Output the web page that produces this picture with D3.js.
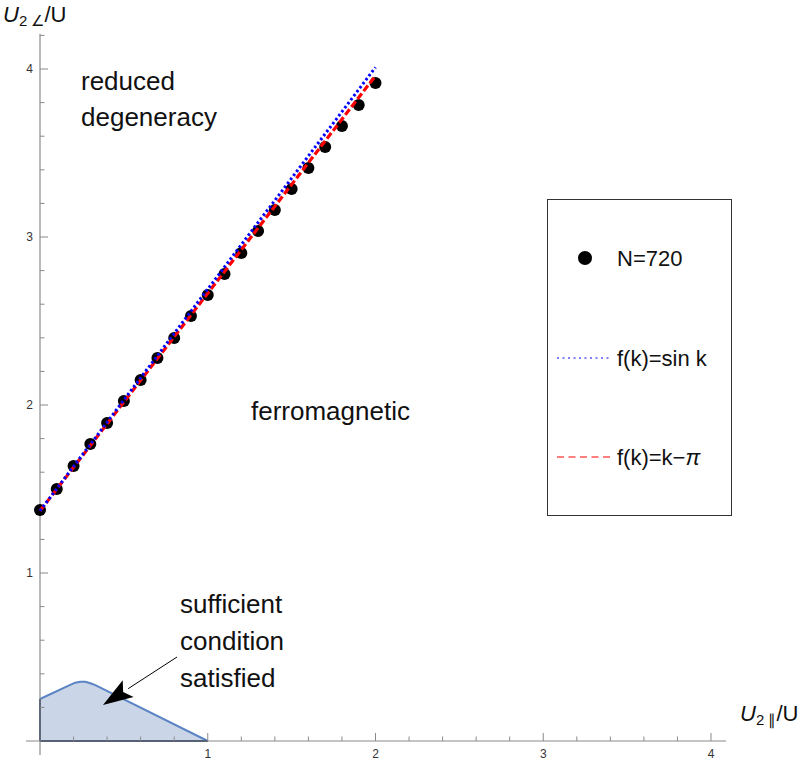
<!DOCTYPE html>
<html><head><meta charset="utf-8">
<script src="https://cdn.jsdelivr.net/npm/d3@7"></script>
<style>body{margin:0;background:#fff}svg{display:block;font-family:"Liberation Sans",Arial,sans-serif}</style>
</head><body><svg id="c" width="798" height="763"></svg>
<script>
// data
const pointsX = [0,0.1,0.2,0.3,0.4,0.5,0.6,0.7,0.8,0.9,1.0,1.1,1.2,1.3,1.4,1.5,1.6,1.7,1.8,1.9,2.0];
const pointsY = [1.375,1.50,1.637,1.768,1.893,2.024,2.149,2.280,2.399,2.530,2.655,2.780,2.905,3.036,3.161,3.286,3.411,3.536,3.661,3.786,3.917];
const sinLineX = [0, 2];
const sinLineY = [1.37, 4.01];
const kpiLineX = [0, 2];
const kpiLineY = [1.37, 3.96];
const regionX = [0, 0.18, 0.21, 0.24, 0.27, 0.30, 0.33, 1.0];
const regionY = [0.25, 0.334, 0.347, 0.353, 0.352, 0.344, 0.333, 0];
const majorTicks = [1, 2, 3, 4];
const tickLabels = ["1", "2", "3", "4"];
const legendLabels = ["N=720", "f(k)=sin k", "f(k)=k\u2212"];
const regionLabels = ["reduced", "degeneracy"];
const conditionLabels = ["sufficient", "condition", "satisfied"];

const svg = d3.select("#c");
const x = d3.scaleLinear().domain([0, 4]).range([40, 711]);
const y = d3.scaleLinear().domain([0, 4]).range([741, 69]);
const axisColor = "#8a8a8a";

// shaded region
const poly = regionX.map((v, i) => [v, regionY[i]]);
const area = d3.area().x(d => x(d[0])).y0(y(0)).y1(d => y(d[1]));
svg.append("path").datum(poly).attr("d", area).attr("fill", "#cbd5e8");
svg.append("path").datum(poly).attr("d", d3.line().x(d => x(d[0])).y(d => y(d[1])))
  .attr("fill", "none").attr("stroke", "#5b84c4").attr("stroke-width", 2);
svg.append("line").attr("x1", x(0)).attr("x2", x(1)).attr("y1", y(0)).attr("y2", y(0))
  .attr("stroke", "#243a63").attr("stroke-width", 2);
svg.append("line").attr("x1", x(0)).attr("x2", x(0)).attr("y1", y(0)).attr("y2", y(regionY[0]))
  .attr("stroke", "#243a63").attr("stroke-width", 2);

// axes
const minor = d3.range(0.2, 4.21, 0.2).filter(v => Math.abs(v - Math.round(v)) > 1e-6);
const gx = svg.append("g");
gx.append("line").attr("x1", 26).attr("x2", x(4.09)).attr("y1", y(0)).attr("y2", y(0)).attr("stroke", axisColor).attr("stroke-width", 1.2);
const gy = svg.append("g");
gy.append("line").attr("x1", x(0)).attr("x2", x(0)).attr("y1", 755).attr("y2", y(4.21)).attr("stroke", axisColor).attr("stroke-width", 1.2);
minor.filter(v => v < 4.05).forEach(v => {
  gx.append("line").attr("x1", x(v)).attr("x2", x(v)).attr("y1", y(0)).attr("y2", y(0) - 4.5).attr("stroke", axisColor);
});
minor.forEach(v => {
  gy.append("line").attr("y1", y(v)).attr("y2", y(v)).attr("x1", x(0)).attr("x2", x(0) + 4.5).attr("stroke", axisColor);
});
majorTicks.forEach((v, i) => {
  gx.append("line").attr("x1", x(v)).attr("x2", x(v)).attr("y1", y(0)).attr("y2", y(0) - 8).attr("stroke", axisColor);
  gx.append("text").attr("x", x(v)).attr("y", y(0) + 17).attr("text-anchor", "middle").attr("font-size", 12).attr("fill", "#333").text(tickLabels[i]);
  gy.append("line").attr("y1", y(v)).attr("y2", y(v)).attr("x1", x(0)).attr("x2", x(0) + 8).attr("stroke", axisColor);
  gy.append("text").attr("x", x(0) - 7).attr("y", y(v) + 4).attr("text-anchor", "end").attr("font-size", 12).attr("fill", "#333").text(tickLabels[i]);
});

// axis labels
const yl = svg.append("text").attr("x", 3).attr("y", 22).attr("font-size", 22).attr("fill", "#111");
yl.append("tspan").attr("font-style", "italic").text("U");
yl.append("tspan").attr("font-size", 15).attr("dy", 4).text("2 \u2220");
yl.append("tspan").attr("dy", -4).text("/U");
const xl = svg.append("text").attr("x", 740).attr("y", 721).attr("font-size", 22).attr("fill", "#111");
xl.append("tspan").attr("font-style", "italic").text("U");
xl.append("tspan").attr("font-size", 15).attr("dy", 4).text("2 \u2225");
xl.append("tspan").attr("dy", -4).text("/U");

// data points
svg.append("g").selectAll("circle").data(pointsX).join("circle")
  .attr("cx", d => x(d)).attr("cy", (d, i) => y(pointsY[i])).attr("r", 6).attr("fill", "#000");

// lines
const ln = d3.line().x(d => x(d[0])).y(d => y(d[1]));
svg.append("path").datum(kpiLineX.map((v, i) => [v, kpiLineY[i]])).attr("d", ln)
  .attr("fill", "none").attr("stroke", "#ff0000").attr("stroke-width", 3.2).attr("stroke-dasharray", "7,3");
svg.append("path").datum(sinLineX.map((v, i) => [v, sinLineY[i]])).attr("d", ln)
  .attr("fill", "none").attr("stroke", "#0000ff").attr("stroke-width", 3).attr("stroke-dasharray", "2.5,2.5");

// text labels
const fs = 22, fl = 26;
regionLabels.forEach((t, i) => svg.append("text").attr("x", 81).attr("y", 90 + i * 36).attr("font-size", fl).attr("fill", "#111").text(t));
svg.append("text").attr("x", 251).attr("y", 420).attr("font-size", fl).attr("fill", "#111").text("ferromagnetic");
conditionLabels.forEach((t, i) => svg.append("text").attr("x", 180).attr("y", 613 + i * 37).attr("font-size", fl).attr("fill", "#111").text(t));

// arrow
const tip = [103, 705], tail = [177, 657];
const ang = Math.atan2(tip[1] - tail[1], tip[0] - tail[0]);
const L = 30, W = 10;
const bx = tip[0] - L * Math.cos(ang), by = tip[1] - L * Math.sin(ang);
svg.append("line").attr("x1", tail[0]).attr("y1", tail[1]).attr("x2", bx).attr("y2", by).attr("stroke", "#000").attr("stroke-width", 1);
svg.append("path").attr("d", `M${tip[0]},${tip[1]} L${bx + W * Math.sin(ang)},${by - W * Math.cos(ang)} L${bx + 6*Math.cos(ang)},${by + 6*Math.sin(ang)} L${bx - W * Math.sin(ang)},${by + W * Math.cos(ang)} Z`).attr("fill", "#000");

// legend
const lg = svg.append("g");
lg.append("rect").attr("x", 547.5).attr("y", 199.5).attr("width", 184).attr("height", 316).attr("fill", "#fff").attr("stroke", "#333").attr("stroke-width", 1);
lg.append("circle").attr("cx", 585).attr("cy", 258).attr("r", 7).attr("fill", "#000");
lg.append("text").attr("x", 617).attr("y", 266).attr("font-size", fs).attr("fill", "#111").text(legendLabels[0]);
lg.append("line").attr("x1", 557).attr("x2", 611).attr("y1", 358).attr("y2", 358).attr("stroke", "#0000ff").attr("stroke-width", 1.2).attr("stroke-dasharray", "2,3.5");
lg.append("text").attr("x", 617).attr("y", 366).attr("font-size", fs).attr("fill", "#111").text(legendLabels[1]);
lg.append("line").attr("x1", 557).attr("x2", 611).attr("y1", 457).attr("y2", 457).attr("stroke", "#ff0000").attr("stroke-width", 1.2).attr("stroke-dasharray", "7,4.5");
const t3 = lg.append("text").attr("x", 617).attr("y", 465).attr("font-size", fs).attr("fill", "#111").text(legendLabels[2]);
t3.append("tspan").attr("font-style", "italic").text("\u03c0");
</script></body></html>
